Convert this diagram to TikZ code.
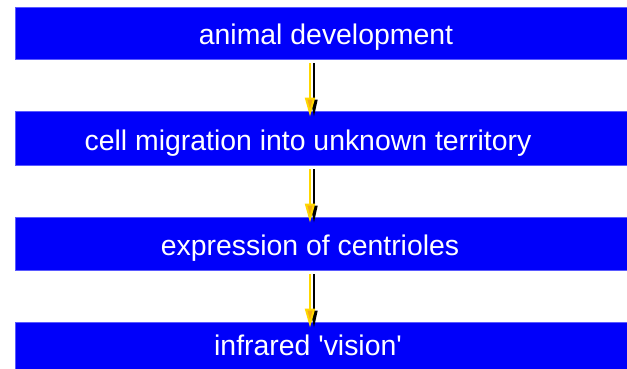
\documentclass[tikz,border=0pt]{standalone}
\usepackage{fontspec}
\setmainfont{Liberation Sans}
\usepackage{tikz}
\usetikzlibrary{arrows.meta}
\definecolor{boxblue}{RGB}{0,0,250}
\definecolor{edgeblue}{RGB}{90,90,255}
\definecolor{flowyellow}{RGB}{255,215,0}
\definecolor{flowhead}{RGB}{245,170,20}
\tikzset{
    stage/.style={
        fill=boxblue, draw=edgeblue, line width=0.8pt,
        minimum width=620pt, inner sep=0pt
    },
    stagetext/.style={
        text=white, anchor=base, inner sep=0pt,
        font=\fontsize{28.4}{32}\selectfont
    },
    flow/.style={
        line width=2pt, draw=flowyellow,
        -{Triangle[length=19pt,width=10pt,fill=flowhead]},
        preaction={
            draw=black, line width=1.5pt,
            -{Triangle[length=17pt,width=7pt]},
            transform canvas={xshift=4pt}
        }
    }
}
\begin{document}
\begin{tikzpicture}[x=1pt, y=-1pt]
\useasboundingbox (0,0) rectangle (627,369);
\fill[white] (0,0) rectangle (627,369);
\node[stage, minimum height=52pt] (B1) at (325,33) {};
\node[stage, minimum height=54pt] (B2) at (325,138) {};
\node[stage, minimum height=53pt] (B3) at (325,243.5) {};
\node[stage, minimum height=56pt] (B4) at (325,350) {};
\node[stagetext] (T1) at (326,45) {animal development};
\node[stagetext] (T2) at (308,150) {cell migration into unknown territory};
\node[stagetext] (T3) at (310,255) {expression of centrioles};
\node[stagetext] (T4) at (308,355) {infrared \textquotesingle vision\textquotesingle};
\draw[flow, shorten <=4pt, shorten >=-6pt] ([xshift=-15pt]B1.south) -- ([xshift=-15pt]B2.north);
\draw[flow, shorten <=4pt, shorten >=-6pt] ([xshift=-15pt]B2.south) -- ([xshift=-15pt]B3.north);
\draw[flow, shorten <=4pt, shorten >=-6pt] ([xshift=-15pt]B3.south) -- ([xshift=-15pt]B4.north);
\end{tikzpicture}
\end{document}
